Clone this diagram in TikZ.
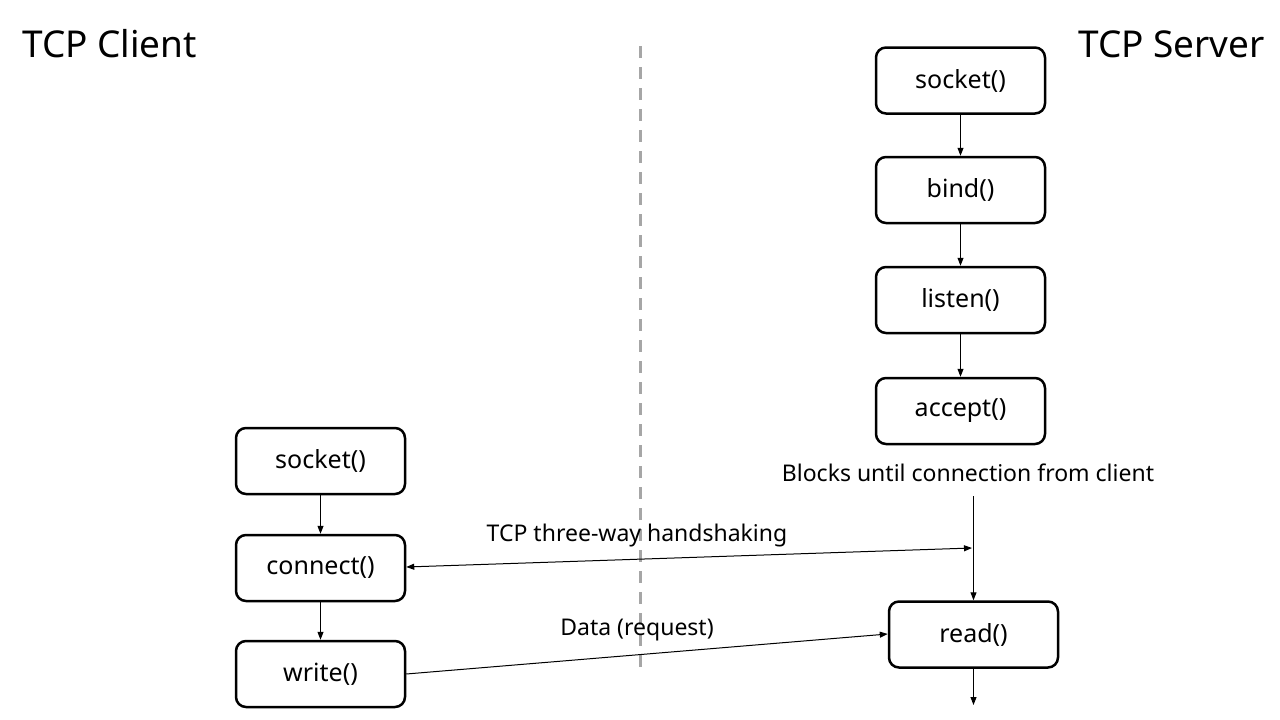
\documentclass[tikz,border=0pt]{standalone}
\usepackage{fontspec}
\setmainfont{Noto Sans}
\usetikzlibrary{arrows.meta}
\begin{document}
\begin{tikzpicture}[x=1pt,y=-1pt,
  fnbox/.style={draw, rounded corners=10pt, line width=2.5pt, minimum width=169pt, minimum height=66pt, inner sep=0pt, font=\fontsize{25}{29}\selectfont},
  flow/.style={line width=1pt, -{Triangle[length=8pt,width=6pt]}},
  lbl/.style={font=\fontsize{23}{27}\selectfont, inner sep=0pt},
  title/.style={font=\fontsize{37}{42}\selectfont, inner sep=0pt}]
\useasboundingbox (0,0) rectangle (1280,720);
\fill[white] (0,0) rectangle (1280,720);
% titles
\node[title, anchor=base west] (ct) at (22,57) {TCP Client};
\node[title, anchor=base east] (st) at (1265,57) {TCP Server};
% divider
\coordinate (dtop) at (640,46);
\coordinate (dbot) at (640,667);
\draw[gray!70, line width=3pt, dash pattern=on 12pt off 9pt] (dtop) -- (dbot);
% server
\node[fnbox] (ssock) at (960.5,80.5) {socket()};
\node[fnbox] (sbind) at (960.5,190) {bind()};
\node[fnbox] (slist) at (960.5,300) {listen()};
\node[fnbox] (sacc) at (960.5,411) {accept()};
\node[fnbox] (sread) at (973.5,634.5) {read()};
\node[lbl] (blk) at (968,473) {Blocks until connection from client};
\draw[flow] (ssock) -- (sbind);
\draw[flow] (sbind) -- (slist);
\draw[flow] (slist) -- (sacc);
\coordinate (bstart) at (973.5,496);
\coordinate (hs) at (972,548);
\coordinate (sout) at (973.5,705);
\draw[flow] (bstart) -- (sread.north);
\draw[flow] (sread.south) -- (sout);
% client
\node[fnbox] (csock) at (320.5,461) {socket()};
\node[fnbox] (cconn) at (320.5,568) {connect()};
\node[fnbox] (cwrite) at (320.5,674) {write()};
\draw[flow] (csock) -- (cconn);
\draw[flow] (cconn) -- (cwrite);
% messages
\draw[line width=1pt, {Triangle[length=8pt,width=6pt]}-{Triangle[length=8pt,width=6pt]}] (cconn.east |- 0,567) -- (hs);
\node[lbl] (hsl) at (637,536) {TCP three-way handshaking};
\draw[flow] (cwrite.east |- 0,674) -- (sread.west |- 0,634);
\node[lbl] (dl) at (637,630) {Data (request)};
\end{tikzpicture}
\end{document}
